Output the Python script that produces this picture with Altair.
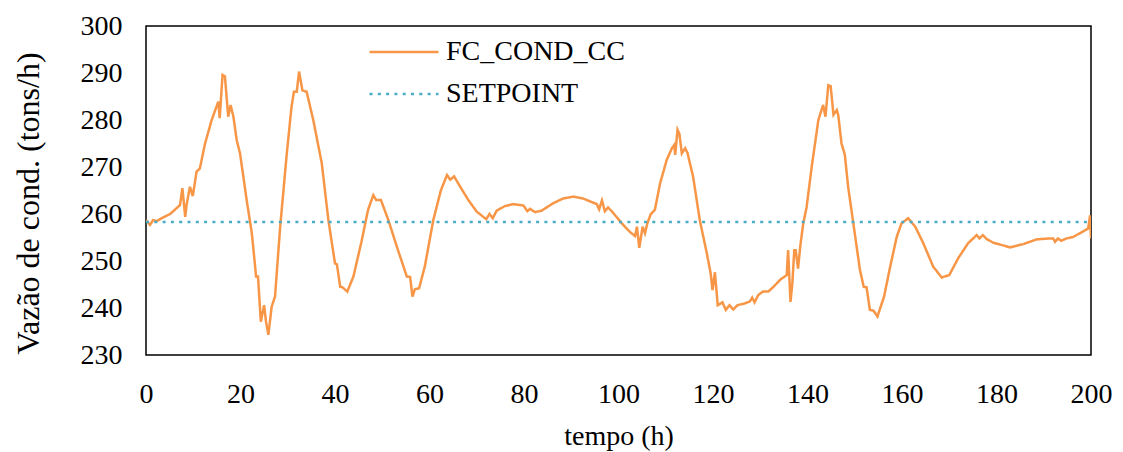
import altair as alt
import pandas as pd

# FC_COND_CC series (tempo in h, vazão in tons/h)
t = [0, 0.85, 1.5, 2.3, 3.7, 5.1, 7.2, 7.7, 8.3, 8.6, 9.3, 9.9, 10.7, 11.4, 12.5, 13.9, 15.3, 15.6, 16.2, 16.7,
     17.4, 17.9, 18.5, 19.2, 19.9, 21.3, 22.4, 23.3, 23.7, 24.3, 25.0, 25.4, 25.9, 26.6, 27.3, 28.4, 29.8, 30.8,
     31.3, 31.9, 32.4, 33.1, 34.0, 35.4, 37.2, 38.6, 40.0, 40.4, 41.1, 41.6, 42.6, 43.9, 45.6, 47.0, 48.1, 48.7,
     49.7, 51.3, 53.1, 55.2, 55.9, 56.4, 56.9, 57.8, 59.0, 60.8, 62.4, 63.7, 64.4, 65.2, 66.5, 68.2, 70.0, 72.0,
     72.7, 73.4, 74.2, 76.0, 77.7, 79.9, 80.7, 81.3, 82.3, 83.7, 86.2, 88.3, 90.4, 92.5, 95.4, 95.9, 96.5, 97.1,
     97.8, 98.9, 100.7, 102.4, 103.5, 103.9, 104.4, 105.1, 105.6, 106.1, 106.8, 107.7, 108.8, 110.2, 111.3, 111.8,
     112.0, 112.5, 112.9, 113.4, 114.1, 114.6, 115.8, 117.2, 118.7, 119.5, 119.9, 120.4, 121.0, 122.0, 122.7,
     123.5, 124.3, 125.2, 126.8, 127.8, 128.3, 128.8, 129.6, 130.6, 131.7, 132.8, 134.2, 135.6, 135.9, 136.4,
     136.8, 137.2, 137.5, 138.0, 138.5, 139.1, 139.8, 140.9, 142.3, 143.3, 143.8, 144.4, 144.9, 145.5, 146.2,
     146.5, 147.2, 147.9, 148.6, 149.7, 151.1, 151.9, 152.5, 153.2, 154.0, 154.8, 156.2, 157.5, 158.9, 159.9,
     161.3, 162.8, 164.5, 166.6, 168.4, 170.0, 171.9, 174.0, 175.8, 176.4, 177.1, 177.9, 179.3, 182.9, 185.7,
     188.5, 191.3, 192.0, 192.4, 193.0, 193.7, 194.8, 196.2, 199.4, 199.8, 200.0]
fc = [258.7, 257.7, 258.7, 258.5, 259.3, 260.0, 261.9, 265.5, 259.4, 262.0, 265.8, 263.8, 269.0, 269.7, 275.0,
      280.0, 283.9, 280.4, 289.6, 289.3, 280.7, 283.2, 280.7, 275.7, 272.9, 263.0, 255.9, 246.7, 246.7, 237.1,
      240.6, 237.1, 234.3, 240.3, 242.4, 257.3, 272.9, 282.8, 286.0, 286.0, 290.3, 286.3, 286.0, 280.0, 270.8,
      258.7, 249.5, 249.3, 244.5, 244.4, 243.5, 246.7, 254.1, 260.9, 264.0, 263.0, 263.0, 258.7, 253.0, 246.7,
      246.6, 242.4, 244.0, 244.2, 248.8, 258.7, 265.0, 268.3, 267.3, 268.0, 265.8, 263.0, 260.5, 258.9, 260.0,
      259.1, 260.7, 261.7, 262.1, 261.8, 260.6, 261.1, 260.4, 260.7, 262.3, 263.3, 263.7, 263.3, 262.1, 261.0,
      262.9, 260.6, 261.4, 260.2, 258.0, 256.2, 255.3, 257.3, 252.8, 257.3, 255.9, 258.0, 259.9, 260.9, 266.5,
      271.5, 274.0, 274.7, 272.6, 277.9, 277.0, 272.9, 274.0, 273.0, 267.9, 258.7, 251.6, 247.4, 243.8, 247.6,
      240.6, 241.2, 239.6, 240.6, 239.7, 240.6, 241.0, 241.4, 242.2, 241.2, 242.8, 243.5, 243.5, 244.5, 246.0,
      247.0, 252.3, 241.3, 245.3, 252.3, 252.3, 248.4, 253.4, 258.0, 261.4, 270.1, 280.0, 283.2, 280.7, 287.4,
      287.2, 281.1, 282.1, 281.1, 275.0, 272.6, 265.8, 258.0, 248.1, 244.5, 244.4, 239.6, 239.4, 238.2, 242.4,
      248.8, 255.2, 258.0, 259.1, 257.3, 253.8, 248.8, 246.5, 247.0, 250.6, 253.8, 255.5, 254.8, 255.5, 254.7,
      253.9, 252.9, 253.6, 254.6, 254.8, 254.8, 254.1, 254.8, 254.3, 254.8, 255.1, 256.9, 259.7, 254.8]

sp_t = [0, 200]
sp_v = [258.3, 258.3]

series_names = ["FC_COND_CC", "SETPOINT"]
colors = ["#F79646", "#4BACC6"]
dashes = [[1, 0], [3, 5.3]]

x_ticks = list(range(0, 201, 20))
y_ticks = list(range(230, 301, 10))

df = pd.concat([
    pd.DataFrame({"tempo": t, "valor": fc, "serie": series_names[0]}),
    pd.DataFrame({"tempo": sp_t, "valor": sp_v, "serie": series_names[1]}),
], ignore_index=True)

FONT = "Liberation Serif"

chart = alt.Chart(df).mark_line(strokeWidth=2.5, clip=True).encode(
    x=alt.X("tempo:Q", scale=alt.Scale(domain=[0, 200], nice=False),
            axis=alt.Axis(title="tempo (h)", values=x_ticks, grid=False, ticks=False, domain=False,
                          labelFlush=False, labelPadding=25, titlePadding=14)),
    y=alt.Y("valor:Q", scale=alt.Scale(domain=[230, 300], nice=False, zero=False),
            axis=alt.Axis(title="Vazão de cond. (tons/h)", values=y_ticks, grid=False, ticks=False,
                          domain=False, labelPadding=24, titlePadding=35, titleFontSize=32,
                          titleY=177)),
    color=alt.Color("serie:N", scale=alt.Scale(domain=series_names, range=colors),
                    legend=alt.Legend(title=None, orient="none", legendX=222, legendY=11,
                                      symbolType="stroke", symbolSize=4761, symbolStrokeWidth=2.5,
                                      clipHeight=30,
                                      labelFontSize=28, labelFont=FONT, labelColor="black",
                                      labelLimit=0, rowPadding=12, labelOffset=6)),
    strokeDash=alt.StrokeDash("serie:N", scale=alt.Scale(domain=series_names, range=dashes), legend=None),
    order=alt.Order("tempo:Q"),
).properties(
    width=945, height=329,
    autosize=alt.AutoSizeParams(type="none"),
    padding={"left": 138, "top": 18, "right": 24, "bottom": 98},
).configure_view(
    stroke="black", strokeWidth=1.5
).configure_axis(
    labelFont=FONT, titleFont=FONT, labelFontSize=28, titleFontSize=28,
    labelColor="black", titleColor="black", titleFontWeight="normal"
)

chart.save("out.html", embed_options={"renderer": "svg", "actions": False})
